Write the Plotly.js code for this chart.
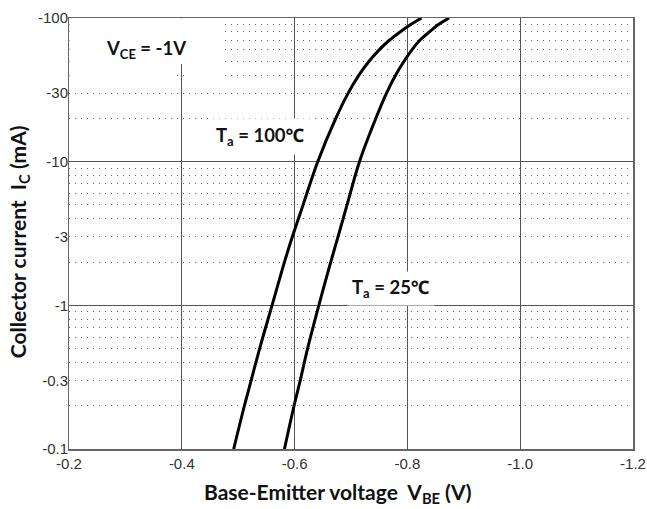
<!DOCTYPE html>
<html>
<head>
<meta charset="utf-8">
<script src="https://cdn.plot.ly/plotly-3.0.1.min.js"></script>
<style>html,body{margin:0;padding:0;background:#fff;}#chart{width:647px;height:509px;}</style>
</head>
<body>
<div id="chart"></div>
<script>
// Collector current magnitude (mA) at which V_BE was read
const currentMag = [0.1, 0.2, 0.3, 0.5, 1, 2, 3, 5, 10, 20, 30, 40, 50, 60, 70, 80, 90, 100];
// V_BE (V) for Ta = 100 °C
const vbe100 = [-0.492, -0.511, -0.523, -0.538, -0.560, -0.582, -0.596, -0.615, -0.641, -0.673, -0.695, -0.714, -0.732, -0.750, -0.768, -0.787, -0.806, -0.825];
// V_BE (V) for Ta = 25 °C
const vbe25 = [-0.582, -0.599, -0.610, -0.623, -0.643, -0.664, -0.677, -0.693, -0.715, -0.744, -0.763, -0.779, -0.794, -0.808, -0.822, -0.839, -0.855, -0.874];

// Axis ticks
const xTickVals = [-0.2, -0.4, -0.6, -0.8, -1.0, -1.2];
const xTickText = ['-0.2', '-0.4', '-0.6', '-0.8', '-1.0', '-1.2'];
const yLabelVals = [0.1, 0.3, 1, 3, 10, 30, 100];
const yLabelText = ['-0.1', '-0.3', '-1', '-3', '-10', '-30', '-100'];
const yMajorVals = [0.1, 1, 10, 100];

const xTitleText = 'Base-Emitter voltage\u00a0\u00a0V<sub>BE</sub> (V)';
const yTitleText = 'Collector current\u00a0\u00a0I<sub>C</sub> (mA)';

const titleFont = {family: 'Lato, "Noto Sans", "DejaVu Sans", sans-serif', size: 21, color: '#111', weight: 'bold'};
const labelFont = {family: 'Lato, "Noto Sans", "DejaVu Sans", sans-serif', size: 18.5, color: '#111', weight: 'bold'};
const tickFont = {family: '"Liberation Sans", Arial, sans-serif', size: 15, color: '#333'};

const traces = [
  {x: vbe100, y: currentMag, type: 'scatter', mode: 'lines', name: 'Ta = 100℃',
   line: {color: '#000', width: 3, shape: 'spline', smoothing: 1}, xaxis: 'x', yaxis: 'y', hoverinfo: 'skip'},
  {x: vbe25, y: currentMag, type: 'scatter', mode: 'lines', name: 'Ta = 25℃',
   line: {color: '#000', width: 3, shape: 'spline', smoothing: 1}, xaxis: 'x', yaxis: 'y2', hoverinfo: 'skip'}
];

const layout = {
  width: 647, height: 509,
  margin: {l: 68.5, r: 14, t: 18, b: 60, pad: 0},
  paper_bgcolor: '#fff', plot_bgcolor: '#fff',
  showlegend: false,
  xaxis: {
    range: [-0.2, -1.2], tickmode: 'array', tickvals: xTickVals, ticktext: xTickText,
    showgrid: true, gridcolor: '#555', gridwidth: 1, zeroline: false,
    showline: true, linecolor: '#666', linewidth: 1.5, mirror: true,
    ticks: '', tickfont: tickFont
  },
  yaxis: {
    type: 'log', range: [-1, 2], tickmode: 'array', tickvals: yMajorVals, showticklabels: false,
    showgrid: true, gridcolor: '#555', gridwidth: 1, zeroline: false,
    showline: true, linecolor: '#666', linewidth: 1.5, mirror: true, ticks: '',
    minor: {dtick: 'D1', showgrid: true, gridcolor: '#666', gridwidth: 1, griddash: '1.4px,4.6px', ticks: ''}
  },
  yaxis2: {
    type: 'log', range: [-1, 2], overlaying: 'y', side: 'left', anchor: 'x',
    tickmode: 'array', tickvals: yLabelVals, ticktext: yLabelText, tickfont: tickFont,
    showgrid: false, zeroline: false, showline: false, ticks: ''
  },
  shapes: [
    {type: 'rect', xref: 'x', yref: 'y', layer: 'between', x0: -0.201, x1: -0.390, y0: 34.7, y1: 99.4,
     fillcolor: '#fff', line: {width: 0}},
    {type: 'rect', xref: 'x', yref: 'y', layer: 'between', x0: -0.390, x1: -0.410, y0: 47.9, y1: 99.4,
     fillcolor: '#fff', line: {width: 0}},
    {type: 'rect', xref: 'x', yref: 'y', layer: 'between', x0: -0.410, x1: -0.468, y0: 34.7, y1: 99.4,
     fillcolor: '#fff', line: {width: 0}}
  ],
  annotations: [
    {xref: 'paper', yref: 'paper', x: 0.477, y: -0.102, text: xTitleText, showarrow: false,
     font: titleFont, xanchor: 'center', yanchor: 'middle'},
    {xref: 'paper', yref: 'paper', x: -0.0895, y: 0.481, text: yTitleText, showarrow: false, textangle: -90,
     font: titleFont, xanchor: 'center', yanchor: 'middle'},
    {xref: 'paper', yref: 'paper', x: 0.137, y: 0.926, text: 'V<sub>CE</sub> = -1V', showarrow: false,
     font: labelFont, xanchor: 'center', yanchor: 'middle'},
    {xref: 'paper', yref: 'paper', x: 0.339, y: 0.724, text: 'T<sub>a</sub> = 100℃', showarrow: false,
     font: labelFont, xanchor: 'center', yanchor: 'middle', bgcolor: '#fff', borderpad: 5},
    {xref: 'paper', yref: 'paper', x: 0.571, y: 0.3735, text: 'T<sub>a</sub> = 25℃', showarrow: false,
     font: labelFont, xanchor: 'center', yanchor: 'middle', bgcolor: '#fff', borderpad: 4}
  ]
};

Plotly.newPlot('chart', traces, layout, {staticPlot: true, displayModeBar: false});
</script>
</body>
</html>
